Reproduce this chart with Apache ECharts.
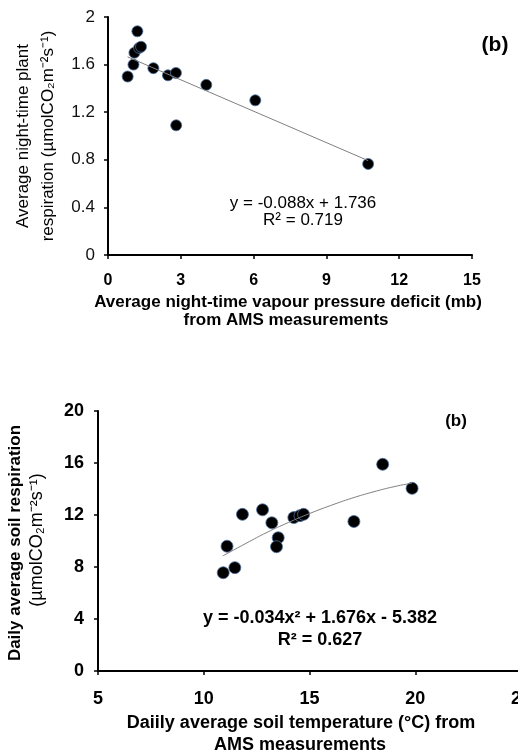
<!DOCTYPE html>
<html>
<head>
<meta charset="utf-8">
<script src="https://cdn.jsdelivr.net/npm/echarts@6/dist/echarts.min.js"></script>
<style>
html, body { margin: 0; padding: 0; overflow: hidden; background: #fff; }
#chart { width: 540px; height: 755px; }
</style>
</head>
<body>
<div id="chart"></div>
<script>
// panel 1: night-time VPD vs plant respiration
var vpdX = [0.81, 1.05, 1.09, 1.21, 1.28, 1.36, 1.87, 2.47, 2.80, 2.81, 4.05, 6.07, 10.72];
var plantResp = [1.50, 1.60, 1.70, 1.88, 1.74, 1.75, 1.57, 1.51, 1.53, 1.09, 1.43, 1.30, 0.765];
var vpdFitX = [0.81, 10.72];
var vpdFitY = [1.665, 0.793];

// panel 2: soil temperature vs soil respiration
var soilTemp = [10.92, 11.10, 11.47, 11.83, 12.78, 13.22, 13.52, 13.44, 14.26, 14.55, 14.72, 17.10, 18.46, 19.85];
var soilResp = [7.56, 9.60, 7.95, 12.05, 12.40, 11.40, 10.25, 9.56, 11.80, 11.95, 12.05, 11.50, 15.90, 14.05];
var tempFitX = [10.9, 12, 13, 14, 15, 16, 17, 18, 19, 19.85];
var tempFitY = [8.85, 9.82, 10.67, 11.42, 12.11, 12.73, 13.29, 13.77, 14.18, 14.45];

function pairs(xs, ys) {
    return xs.map(function (x, i) { return [x, ys[i]]; });
}

var font = 'Liberation Sans, Arial, sans-serif';
var axisLine = { show: true, onZero: false, lineStyle: { color: '#000', width: 2 } };
var axisTick = { show: true, inside: false, length: 4, lineStyle: { color: '#000', width: 1.5 } };

function label(text, x, y, size, weight, rot) {
    return {
        type: 'text',
        x: x, y: y,
        rotation: rot || 0,
        style: {
            text: text,
            fontFamily: font,
            fontSize: size,
            fontWeight: weight,
            fill: '#000',
            textAlign: 'center',
            textVerticalAlign: 'middle'
        }
    };
}

var chart = echarts.init(document.getElementById('chart'));

var option = {
    backgroundColor: '#fff',
    animation: false,
    grid: [
        { left: 108, top: 17, width: 364, height: 238 },
        { left: 98, top: 411, width: 423, height: 260 }
    ],
    xAxis: [
        {
            type: 'value', gridIndex: 0, min: 0, max: 15, interval: 3,
            axisLine: axisLine, axisTick: axisTick, splitLine: { show: false },
            axisLabel: { margin: 18, fontFamily: font, fontSize: 16, fontWeight: 'bold', color: '#000' }
        },
        {
            type: 'value', gridIndex: 1, min: 5, max: 25, interval: 5,
            axisLine: axisLine, axisTick: axisTick, splitLine: { show: false },
            axisLabel: { margin: 19, fontFamily: font, fontSize: 18, fontWeight: 'bold', color: '#000' }
        }
    ],
    yAxis: [
        {
            type: 'value', gridIndex: 0, min: 0, max: 2, interval: 0.4,
            axisLine: axisLine, axisTick: axisTick, splitLine: { show: false },
            axisLabel: { margin: 13, fontFamily: font, fontSize: 17, color: '#111' }
        },
        {
            type: 'value', gridIndex: 1, min: 0, max: 20, interval: 4,
            axisLine: axisLine, axisTick: axisTick, splitLine: { show: false },
            axisLabel: { margin: 14, fontFamily: font, fontSize: 18, fontWeight: 'bold', color: '#000' }
        }
    ],
    series: [
        {
            type: 'line', xAxisIndex: 0, yAxisIndex: 0,
            data: pairs(vpdFitX, vpdFitY),
            showSymbol: false, silent: true,
            lineStyle: { color: '#808080', width: 1 }
        },
        {
            type: 'scatter', xAxisIndex: 0, yAxisIndex: 0,
            data: pairs(vpdX, plantResp),
            symbolSize: 11,
            itemStyle: { color: '#000', borderColor: '#4d6f9e', borderWidth: 0.8, opacity: 1 }
        },
        {
            type: 'line', xAxisIndex: 1, yAxisIndex: 1,
            data: pairs(tempFitX, tempFitY),
            smooth: true, showSymbol: false, silent: true,
            lineStyle: { color: '#808080', width: 1 }
        },
        {
            type: 'scatter', xAxisIndex: 1, yAxisIndex: 1,
            data: pairs(soilTemp, soilResp),
            symbolSize: 12,
            itemStyle: { color: '#000', borderColor: '#4d6f9e', borderWidth: 0.8, opacity: 1 }
        }
    ],
    graphic: [
        label('Average night-time plant', 23, 136, 17, 'normal', Math.PI / 2),
        label('respiration (\u00b5molCO\u2082m\u207b\u00b2s\u207b\u00b9)', 48, 136, 17, 'normal', Math.PI / 2),
        label('Average night-time vapour pressure deficit (mb)', 288, 302, 17, 'bold'),
        label('from AMS measurements', 286, 320, 17, 'bold'),
        label('y = -0.088x + 1.736', 303, 203, 17, 'normal'),
        label('R\u00b2 = 0.719', 303, 220, 17, 'normal'),
        label('(b)', 495, 45, 21, 'bold'),

        label('Daily average soil respiration', 15, 543, 17, 'bold', Math.PI / 2),
        label('(\u00b5molCO\u2082m\u207b\u00b2s\u207b\u00b9)', 37, 540, 18, 'normal', Math.PI / 2),
        label('Daiily average soil temperature (\u00b0C) from', 301, 723, 18, 'bold'),
        label('AMS measurements', 300, 745, 18, 'bold'),
        label('y = -0.034x\u00b2 + 1.676x - 5.382', 320, 618, 18, 'bold'),
        label('R\u00b2 = 0.627', 320, 640, 18, 'bold'),
        label('(b)', 456, 421, 17, 'bold')
    ]
};

chart.setOption(option);
window.addEventListener('resize', function () { chart.resize(); });
</script>
</body>
</html>
